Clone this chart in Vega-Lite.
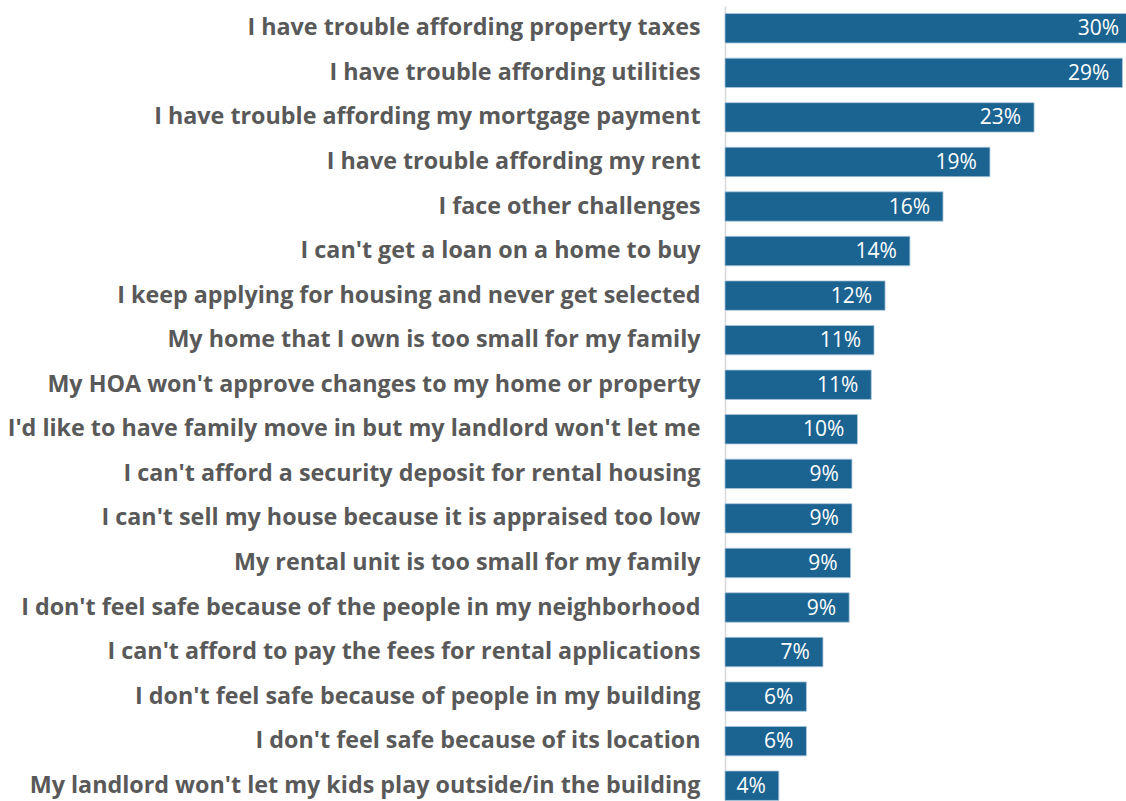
{
  "$schema": "https://vega.github.io/schema/vega-lite/v6.json",
  "autosize": {"type": "none"},
  "padding": {"left": 725, "top": 0, "right": 0, "bottom": 0},
  "width": 401,
  "height": 801,
  "background": "#ffffff",
  "config": {"view": {"stroke": null}, "font": "Open Sans"},
  "data": {
    "values": [
      {"item": "I have trouble affording property taxes", "value": 29.5, "label": "30%"},
      {"item": "I have trouble affording utilities", "value": 28.8, "label": "29%"},
      {"item": "I have trouble affording my mortgage payment", "value": 22.4, "label": "23%"},
      {"item": "I have trouble affording my rent", "value": 19.2, "label": "19%"},
      {"item": "I face other challenges", "value": 15.8, "label": "16%"},
      {"item": "I can't get a loan on a home to buy", "value": 13.4, "label": "14%"},
      {"item": "I keep applying for housing and never get selected", "value": 11.6, "label": "12%"},
      {"item": "My home that I own is too small for my family", "value": 10.8, "label": "11%"},
      {"item": "My HOA won't approve changes to my home or property", "value": 10.6, "label": "11%"},
      {"item": "I'd like to have family move in but my landlord won't let me", "value": 9.6, "label": "10%"},
      {"item": "I can't afford a security deposit for rental housing", "value": 9.2, "label": "9%"},
      {"item": "I can't sell my house because it is appraised too low", "value": 9.2, "label": "9%"},
      {"item": "My rental unit is too small for my family", "value": 9.1, "label": "9%"},
      {"item": "I don't feel safe because of the people in my neighborhood", "value": 9.0, "label": "9%"},
      {"item": "I can't afford to pay the fees for rental applications", "value": 7.1, "label": "7%"},
      {"item": "I don't feel safe because of people in my building", "value": 5.9, "label": "6%"},
      {"item": "I don't feel safe because of its location", "value": 5.9, "label": "6%"},
      {"item": "My landlord won't let my kids play outside/in the building", "value": 3.9, "label": "4%"}
    ]
  },
  "encoding": {
    "y": {
      "field": "item",
      "type": "nominal",
      "sort": null,
      "title": null,
      "scale": {"range": [6, 808], "paddingInner": 0.34, "paddingOuter": 0.17},
      "axis": {
        "ticks": false,
        "domainColor": "#d9d9d9",
        "domainWidth": 1.5,
        "labelFont": "Open Sans",
        "labelFontWeight": "bold",
        "labelFontSize": 23.3,
        "labelColor": "#595959",
        "labelPadding": 25,
        "labelLimit": 800
      }
    },
    "x": {
      "field": "value",
      "type": "quantitative",
      "title": null,
      "scale": {"domain": [0, 29.06], "nice": false, "zero": true},
      "axis": null
    }
  },
  "layer": [
    {
      "mark": {"type": "bar", "color": "#1B6391", "stroke": "#a9c6dc", "strokeWidth": 0.8}
    },
    {
      "mark": {"type": "text", "align": "right", "baseline": "middle", "dx": -13, "dy": 1, "color": "#ffffff", "font": "Open Sans", "fontSize": 21},
      "encoding": {"text": {"field": "label", "type": "nominal"}}
    }
  ]
}
